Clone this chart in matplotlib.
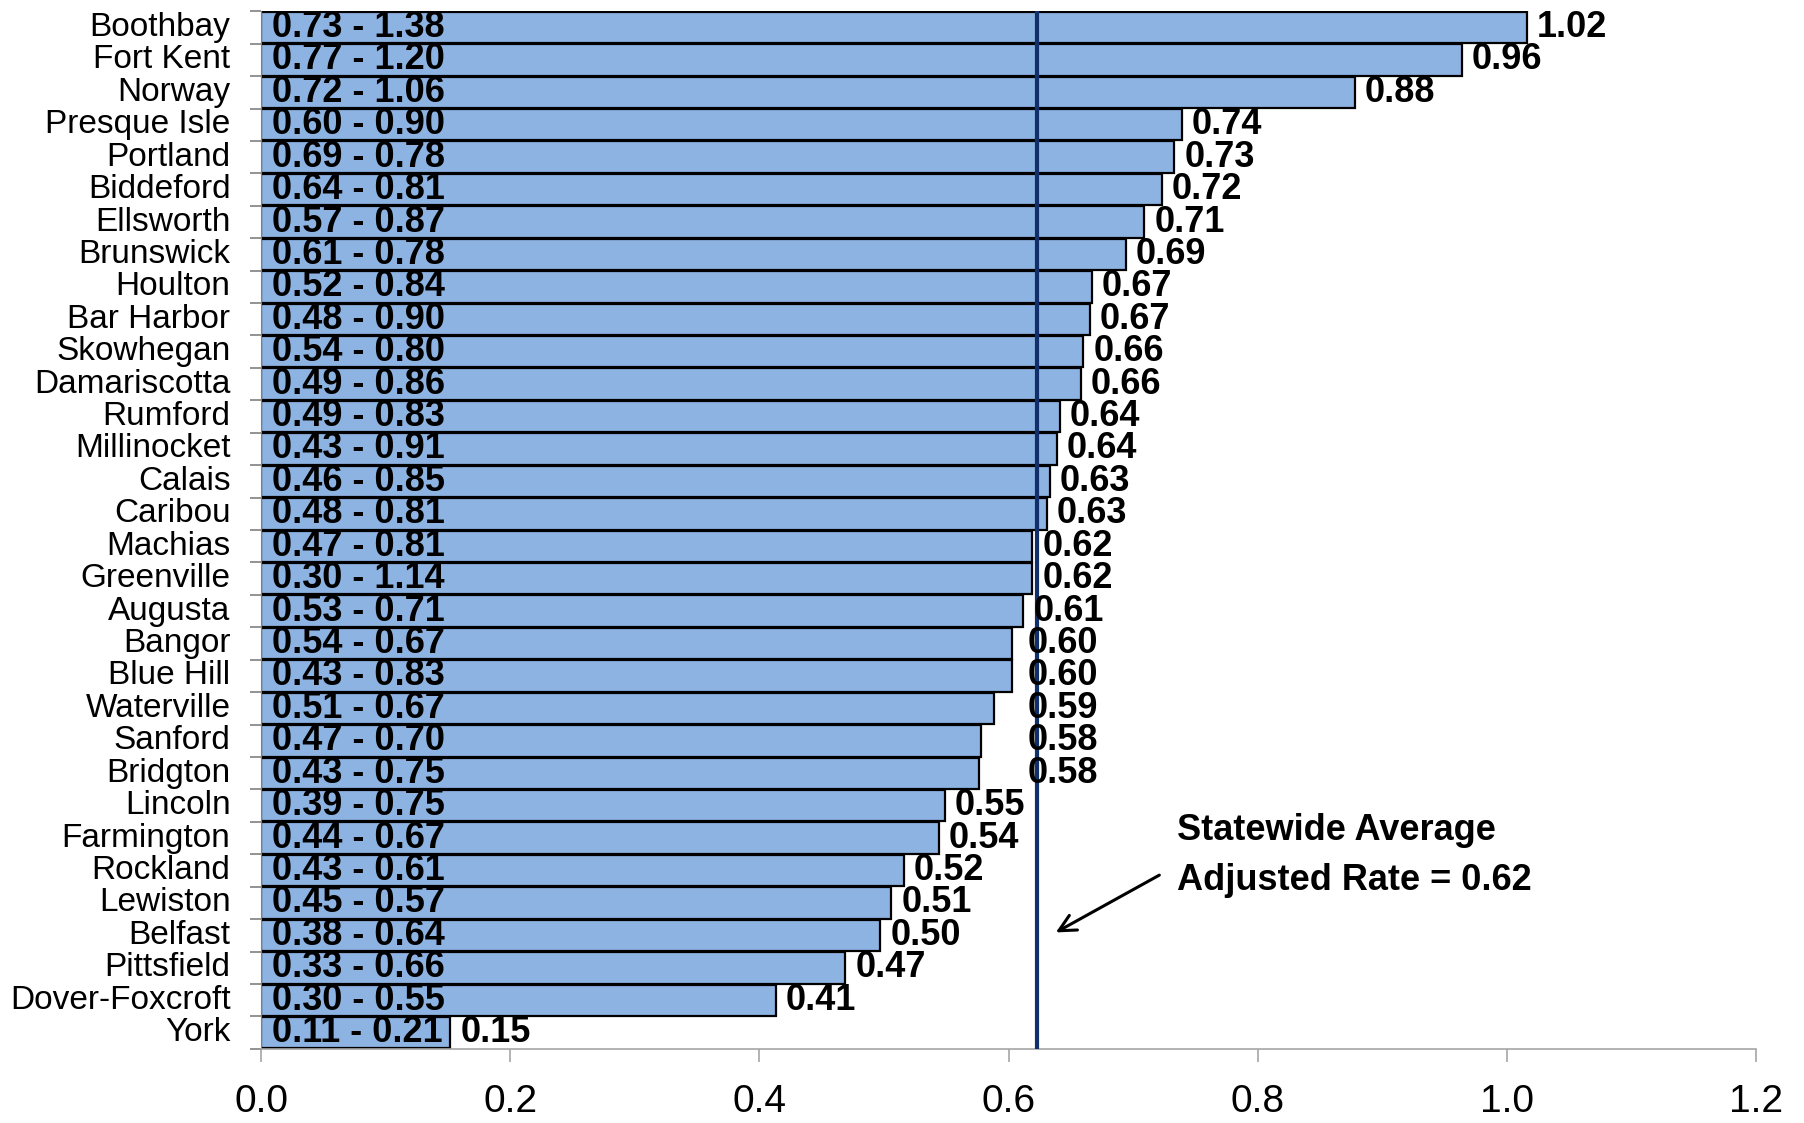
import matplotlib
matplotlib.use('Agg')
import matplotlib.pyplot as plt
from matplotlib import font_manager
import numpy as np

# ── Data ──────────────────────────────────────────────────────
towns = ["Boothbay", "Fort Kent", "Norway", "Presque Isle", "Portland",
         "Biddeford", "Ellsworth", "Brunswick", "Houlton", "Bar Harbor",
         "Skowhegan", "Damariscotta", "Rumford", "Millinocket", "Calais",
         "Caribou", "Machias", "Greenville", "Augusta", "Bangor",
         "Blue Hill", "Waterville", "Sanford", "Bridgton", "Lincoln",
         "Farmington", "Rockland", "Lewiston", "Belfast", "Pittsfield",
         "Dover-Foxcroft", "York"]

rates = [1.016, 0.964, 0.878, 0.739, 0.733, 0.723, 0.709, 0.694, 0.667,
         0.6655, 0.660, 0.658, 0.641, 0.639, 0.633, 0.631, 0.619, 0.619,
         0.612, 0.603, 0.603, 0.588, 0.578, 0.576, 0.549, 0.544, 0.516,
         0.506, 0.497, 0.469, 0.413, 0.152]

ci_labels = ["0.73 - 1.38", "0.77 - 1.20", "0.72 - 1.06", "0.60 - 0.90",
             "0.69 - 0.78", "0.64 - 0.81", "0.57 - 0.87", "0.61 - 0.78",
             "0.52 - 0.84", "0.48 - 0.90", "0.54 - 0.80", "0.49 - 0.86",
             "0.49 - 0.83", "0.43 - 0.91", "0.46 - 0.85", "0.48 - 0.81",
             "0.47 - 0.81", "0.30 - 1.14", "0.53 - 0.71", "0.54 - 0.67",
             "0.43 - 0.83", "0.51 - 0.67", "0.47 - 0.70", "0.43 - 0.75",
             "0.39 - 0.75", "0.44 - 0.67", "0.43 - 0.61", "0.45 - 0.57",
             "0.38 - 0.64", "0.33 - 0.66", "0.30 - 0.55", "0.11 - 0.21"]

state_avg = 0.623
xticks = [0.0, 0.2, 0.4, 0.6, 0.8, 1.0, 1.2]

# ── Fonts ─────────────────────────────────────────────────────
def have(name):
    try:
        font_manager.findfont(name, fallback_to_default=False)
        return True
    except Exception:
        return False

NARROW = 'Liberation Sans Narrow' if have('Liberation Sans Narrow') else 'Liberation Sans'
plt.rcParams['font.family'] = ['Liberation Sans', 'DejaVu Sans']

# ── Plot ──────────────────────────────────────────────────────
fig = plt.figure(figsize=(18.04, 11.23), dpi=100)
ax = fig.add_axes([0.1447, 0.066, 0.8287, 0.924])

y = np.arange(len(towns))
ax.barh(y, rates, height=0.97, color='#8DB3E2', edgecolor='black',
        linewidth=1.6, zorder=2)

ax.axvline(state_avg, color='#112F6B', linewidth=3, zorder=3)

for i, (v, ci) in enumerate(zip(rates, ci_labels)):
    ax.text(0.009, i, ci, ha='left', va='center', fontsize=26,
            fontweight='bold', zorder=4)
    xl = v + 0.008
    if 0.56 < v < 0.62:
        xl = max(xl, 0.615)
    ax.text(xl, i, f"{v:.2f}", ha='left', va='center', fontsize=26,
            fontweight='bold', zorder=4)

ax.set_xlim(0, 1.2)
ax.set_ylim(len(towns) - 0.5, -0.5)

ax.set_yticks(y)
ax.set_yticklabels(towns, fontsize=24, va='center')
ax.set_yticks(np.arange(-0.5, len(towns), 1), minor=True)
ax.tick_params(axis='y', which='major', length=0, pad=22)
ax.tick_params(axis='y', which='minor', length=8, width=1.2, color='#808080')

ax.set_xticks(xticks)
ax.set_xticklabels([f"{t:.1f}" for t in xticks], fontsize=28,
                   fontfamily=NARROW)
ax.tick_params(axis='x', length=9, width=1.2, color='#A6A6A6', pad=16)

for s in ['top', 'right']:
    ax.spines[s].set_visible(False)
ax.spines['bottom'].set_color('#A6A6A6')
ax.spines['bottom'].set_linewidth(1.2)
ax.spines['left'].set_color('#808080')

# annotation for the statewide average
ax.text(0.735, 24.75, "Statewide Average", fontsize=26, fontweight='bold',
        ha='left', va='center')
ax.text(0.735, 26.3, "Adjusted Rate = 0.62", fontsize=26, fontweight='bold',
        ha='left', va='center')
ax.annotate("", xy=(0.636, 27.95), xytext=(0.723, 26.1),
            arrowprops=dict(arrowstyle='->', lw=2.2, color='black',
                            mutation_scale=30))

fig.savefig("out.png", dpi=100)
